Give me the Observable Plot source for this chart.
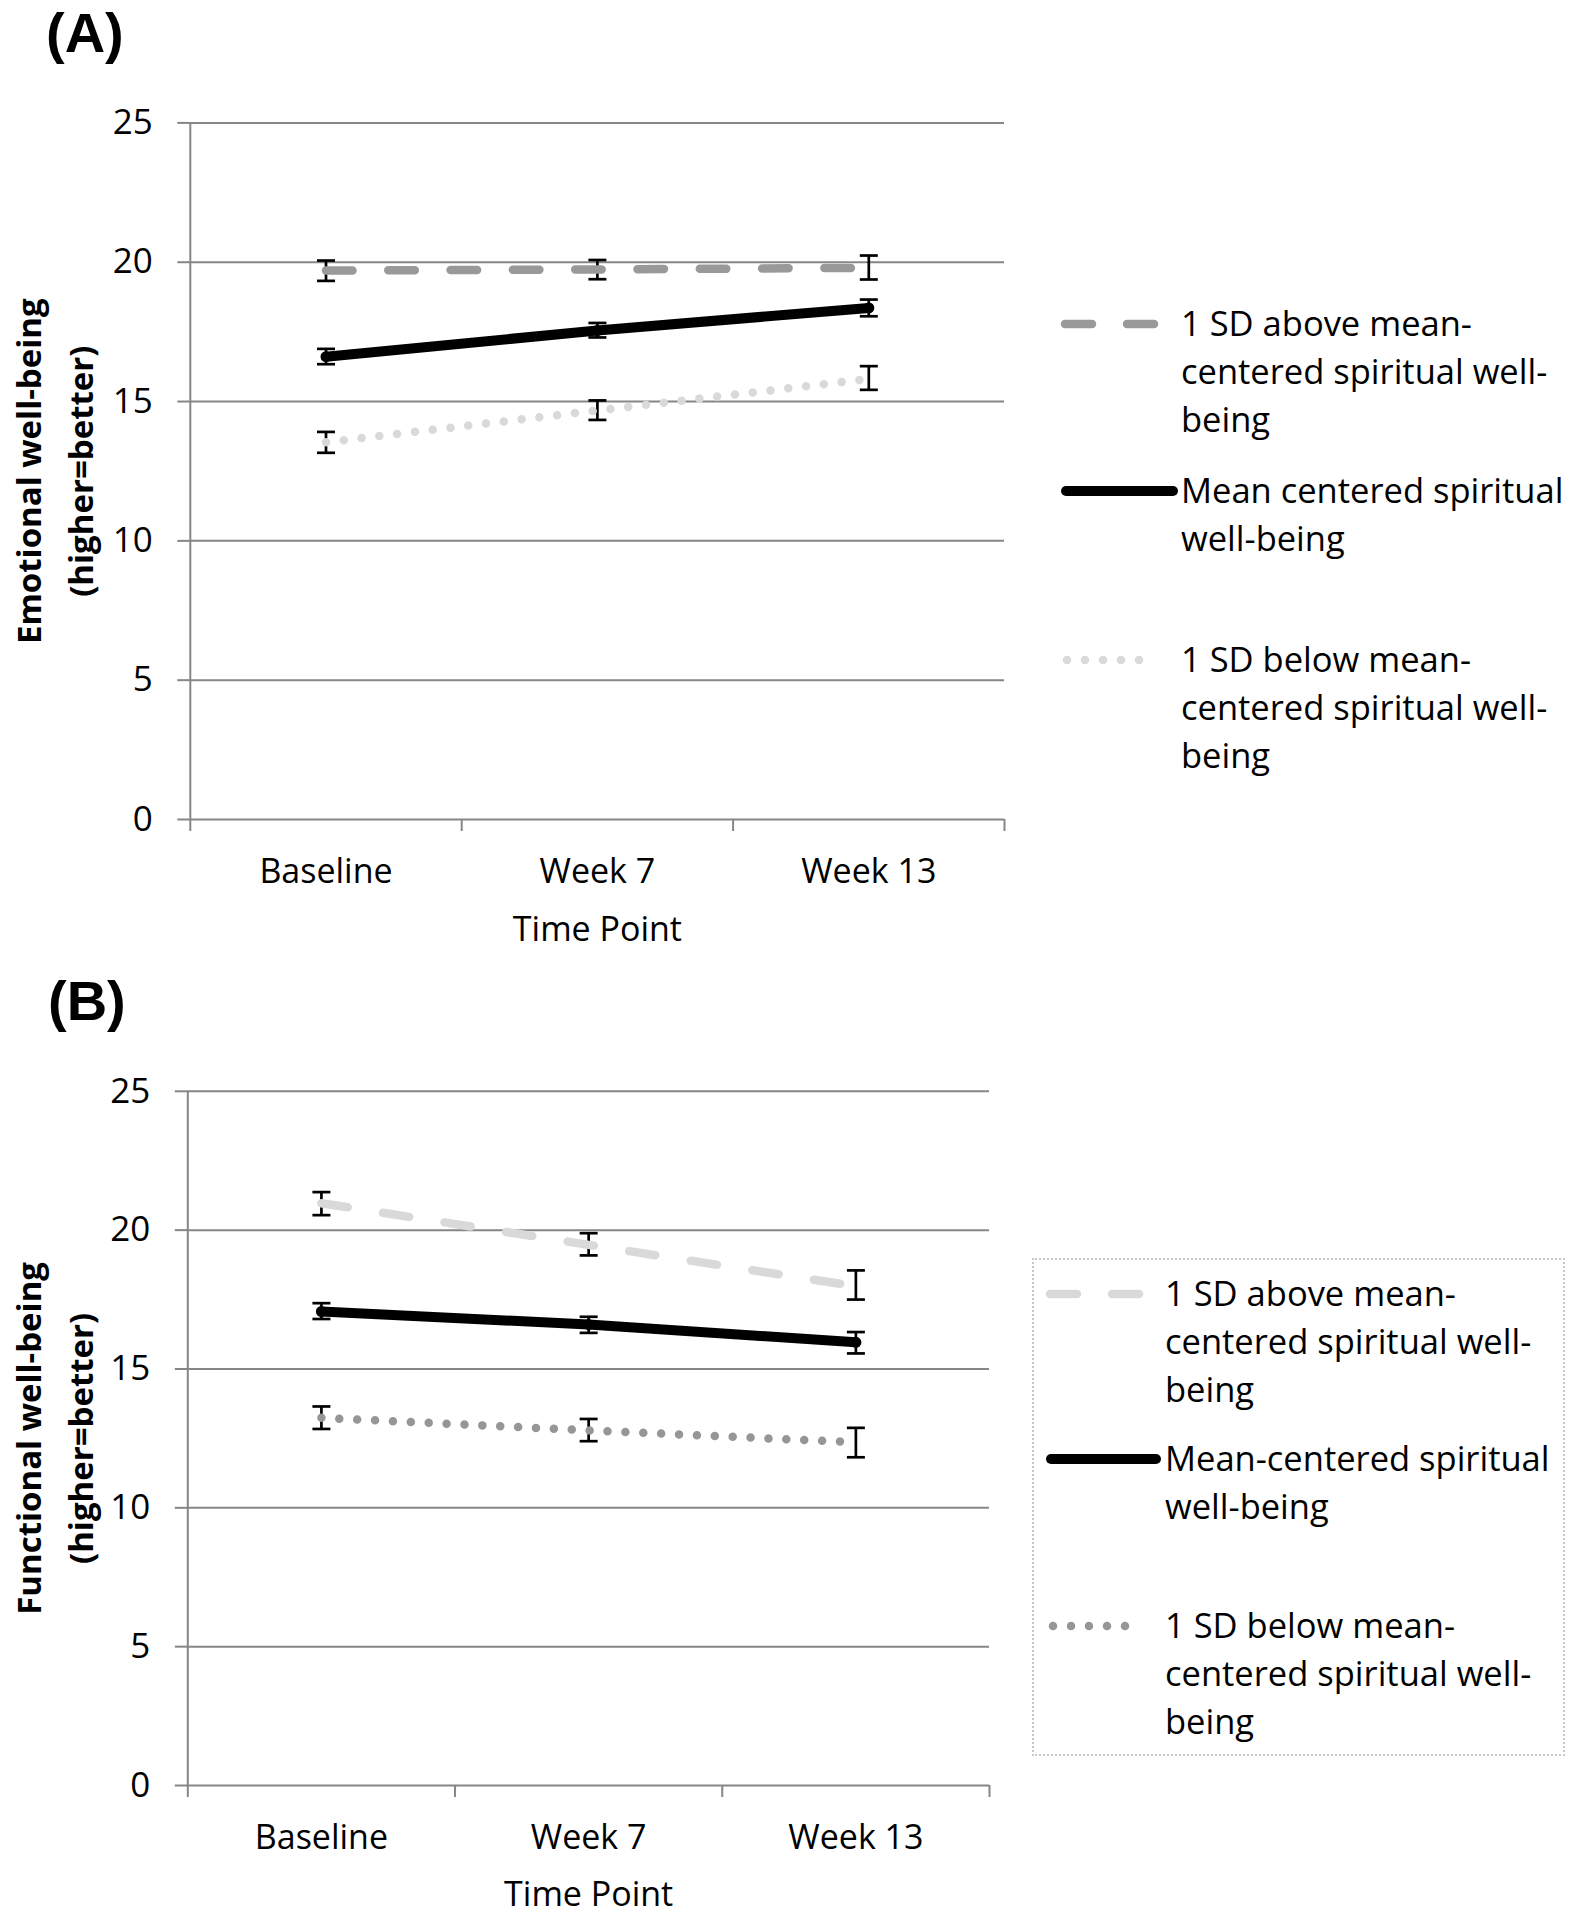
<!DOCTYPE html>
<html>
<head>
<meta charset="utf-8">
<script src="https://cdn.jsdelivr.net/npm/d3@7"></script>
<script src="https://cdn.jsdelivr.net/npm/@observablehq/plot@0.6"></script>
<style>
  html, body { margin: 0; padding: 0; background: #fff; }
  #root { position: relative; width: 1578px; height: 1920px; background: #fff; font-family: 'Open Sans', sans-serif; color: #000; overflow: hidden; }
  .panel-letter { position: absolute; font-family: 'Liberation Sans', Arial, sans-serif; font-weight: 700; font-size: 56px; line-height: normal; }
  .legend-entry { position: absolute; font-size: 34.5px; line-height: 48px; white-space: nowrap; }
  .legend-sample { position: absolute; overflow: visible; }
  #legendBoxB { position: absolute; border: 2px dotted #c8c8c8; box-sizing: border-box; }
</style>
</head>
<body>
<div id="root"></div>
<script>
// ---------- data ----------
const timePoints = ["Baseline", "Week 7", "Week 13"];
const yTicks = [0, 5, 10, 15, 20, 25];
const xLabel = "Time Point";
const yLabelA = "Emotional well-being\n(higher=better)";
const yLabelB = "Functional well-being\n(higher=better)";

// Panel A – emotional well-being
const aAbove   = [19.70, 19.74, 19.80];
const aAboveLo = [19.33, 19.39, 19.38];
const aAboveHi = [20.06, 20.08, 20.24];
const aMean    = [16.61, 17.55, 18.36];
const aMeanLo  = [16.34, 17.30, 18.06];
const aMeanHi  = [16.89, 17.82, 18.66];
const aBelow   = [13.54, 14.68, 15.81];
const aBelowLo = [13.16, 14.34, 15.42];
const aBelowHi = [13.91, 15.04, 16.27];

// Panel B – functional well-being
const bAbove   = [20.97, 19.47, 17.98];
const bAboveLo = [20.54, 19.09, 17.50];
const bAboveHi = [21.37, 19.89, 18.55];
const bMean    = [17.07, 16.60, 15.96];
const bMeanLo  = [16.80, 16.30, 15.56];
const bMeanHi  = [17.37, 16.88, 16.33];
const bBelow   = [13.24, 12.79, 12.36];
const bBelowLo = [12.84, 12.40, 11.82];
const bBelowHi = [13.65, 13.20, 12.88];

const legendA = [
  ["1 SD above mean-", "centered spiritual well-", "being"],
  ["Mean centered spiritual", "well-being"],
  ["1 SD below mean-", "centered spiritual well-", "being"]
];
const legendB = [
  ["1 SD above mean-", "centered spiritual well-", "being"],
  ["Mean-centered spiritual", "well-being"],
  ["1 SD below mean-", "centered spiritual well-", "being"]
];

// ---------- helpers ----------
function rows(vals, lo, hi) {
  return vals.map((v, i) => ({x: i + 0.5, y: v, lo: lo[i], hi: hi[i]}));
}
const capSymbol = {
  draw(ctx, size) {
    const r = Math.sqrt(size / Math.PI);
    ctx.moveTo(-r, 0); ctx.lineTo(r, 0);
  }
};
const styles = {
  dashed: (color) => ({stroke: color, strokeWidth: 8.5, strokeLinecap: "round", strokeDasharray: "26.5,35.8"}),
  solid: () => ({stroke: "#000", strokeWidth: 10, strokeLinecap: "round"}),
  dotted: (color) => ({stroke: color, strokeWidth: 8.5, strokeLinecap: "round", strokeDasharray: "0,17.9"})
};

function errorBars(data) {
  return [
    Plot.ruleX(data, {x: "x", y1: "lo", y2: "hi", stroke: "#000", strokeWidth: 2.7}),
    Plot.dot(data, {x: "x", y: "lo", symbol: capSymbol, r: 9, stroke: "#000", strokeWidth: 2.7, fill: "none"}),
    Plot.dot(data, {x: "x", y: "hi", symbol: capSymbol, r: 9, stroke: "#000", strokeWidth: 2.7, fill: "none"})
  ];
}

function panel(cfg) {
  const above = rows(cfg.above, cfg.aboveLo, cfg.aboveHi);
  const mean = rows(cfg.mean, cfg.meanLo, cfg.meanHi);
  const below = rows(cfg.below, cfg.belowLo, cfg.belowHi);
  return Plot.plot({
    width: cfg.width, height: cfg.height,
    marginLeft: cfg.ml, marginRight: cfg.mr, marginTop: cfg.mt, marginBottom: cfg.mb,
    style: {fontFamily: "'Open Sans', sans-serif", fontSize: "34px", color: "#000", background: "transparent", overflow: "visible"},
    x: {domain: [0, 3]},
    y: {domain: [0, 25]},
    marks: [
      Plot.gridY(yTicks, {stroke: "#868686", strokeOpacity: 1, strokeWidth: 2}),
      Plot.axisY(yTicks, {tickSize: 12.5, tickPadding: 25, stroke: "#868686", strokeWidth: 2, label: null, fontSize: 35}),
      Plot.ruleX([0], {stroke: "#868686", strokeWidth: 2}),
      Plot.axisX([0, 1, 2, 3], {tickSize: 12, tickFormat: () => "", stroke: "#868686", strokeWidth: 2, label: null}),
      Plot.axisX([0.5, 1.5, 2.5], {tickSize: 0, tickPadding: 39, tickFormat: d => timePoints[Math.floor(d)], label: null, fontSize: 34}),
      ...errorBars(above), ...errorBars(mean), ...errorBars(below),
      Plot.line(below, {x: "x", y: "y", ...styles.dotted(cfg.belowColor)}),
      Plot.line(above, {x: "x", y: "y", ...styles.dashed(cfg.aboveColor)}),
      Plot.line(mean, {x: "x", y: "y", ...styles.solid()}),
      Plot.dot(mean, {x: "x", y: "y", r: 5.5, fill: "#000"}),
      Plot.text([cfg.yLabel], {frameAnchor: "left", dx: cfg.yLabelDx, rotate: -90, textAnchor: "middle", lineAnchor: "middle", fontWeight: "bold", fontSize: 33, lineHeight: 1.58}),
      Plot.text([xLabel], {frameAnchor: "bottom", dy: cfg.xLabelDy, lineAnchor: "middle", fontSize: 34})
    ]
  });
}

const root = document.getElementById("root");

const plotA = panel({
  width: 1020, height: 960, ml: 189.8, mr: 16, mt: 122.4, mb: 141,
  above: aAbove, aboveLo: aAboveLo, aboveHi: aAboveHi,
  mean: aMean, meanLo: aMeanLo, meanHi: aMeanHi,
  below: aBelow, belowLo: aBelowLo, belowHi: aBelowHi,
  aboveColor: "#999999", belowColor: "#d9d9d9",
  yLabel: yLabelA, yLabelDx: -140, xLabelDy: 111
});
plotA.style.position = "absolute"; plotA.style.left = "0px"; plotA.style.top = "0px";
root.appendChild(plotA);

const plotB = panel({
  width: 1010, height: 960, ml: 187.3, mr: 21, mt: 130.8, mb: 135,
  above: bAbove, aboveLo: bAboveLo, aboveHi: bAboveHi,
  mean: bMean, meanLo: bMeanLo, meanHi: bMeanHi,
  below: bBelow, belowLo: bBelowLo, belowHi: bBelowHi,
  aboveColor: "#d9d9d9", belowColor: "#969696",
  yLabel: yLabelB, yLabelDx: -137.5, xLabelDy: 110
});
plotB.style.position = "absolute"; plotB.style.left = "0px"; plotB.style.top = "960px";
root.appendChild(plotB);

// panel letters
function letter(txt, x, y) {
  const d = document.createElement("div");
  d.className = "panel-letter"; d.textContent = txt;
  d.style.left = x + "px"; d.style.top = y + "px";
  root.appendChild(d);
}
letter("(A)", 46, 0);
letter("(B)", 48, 968);

// legends
const svgNS = "http://www.w3.org/2000/svg";
function sample(x1, x2, y, kind, color) {
  const s = document.createElementNS(svgNS, "svg");
  s.setAttribute("class", "legend-sample");
  s.setAttribute("width", x2 - x1 + 20); s.setAttribute("height", 20);
  s.style.left = (x1 - 10) + "px"; s.style.top = (y - 10) + "px";
  const l = document.createElementNS(svgNS, "line");
  l.setAttribute("x1", 10); l.setAttribute("x2", x2 - x1 + 10);
  l.setAttribute("y1", 10); l.setAttribute("y2", 10);
  l.setAttribute("stroke-linecap", "round");
  if (kind === "dashed") { l.setAttribute("stroke", color); l.setAttribute("stroke-width", 8.5); l.setAttribute("stroke-dasharray", "27,35"); }
  if (kind === "solid") { l.setAttribute("stroke", "#000"); l.setAttribute("stroke-width", 10); }
  if (kind === "dotted") { l.setAttribute("stroke", color); l.setAttribute("stroke-width", 8.5); l.setAttribute("stroke-dasharray", "0,18"); }
  s.appendChild(l);
  root.appendChild(s);
}
function legendEntry(lines, x, yCenter) {
  const d = document.createElement("div");
  d.className = "legend-entry";
  d.innerHTML = lines.join("<br>");
  d.style.left = x + "px"; d.style.top = (yCenter - 25) + "px";
  root.appendChild(d);
}

// Legend A
sample(1065, 1163, 324, "dashed", "#999999");
legendEntry(legendA[0], 1181, 324);
sample(1066, 1173, 491, "solid");
legendEntry(legendA[1], 1181, 491);
sample(1067, 1157, 660, "dotted", "#d9d9d9");
legendEntry(legendA[2], 1181, 660);

// Legend B
const box = document.createElement("div");
box.id = "legendBoxB";
box.style.left = "1032px"; box.style.top = "1258px"; box.style.width = "533px"; box.style.height = "498px";
root.appendChild(box);
sample(1050, 1146, 1294, "dashed", "#d9d9d9");
legendEntry(legendB[0], 1165, 1294);
sample(1051, 1156, 1459, "solid");
legendEntry(legendB[1], 1165, 1459);
sample(1053, 1143, 1626, "dotted", "#969696");
legendEntry(legendB[2], 1165, 1626);
</script>
</body>
</html>
